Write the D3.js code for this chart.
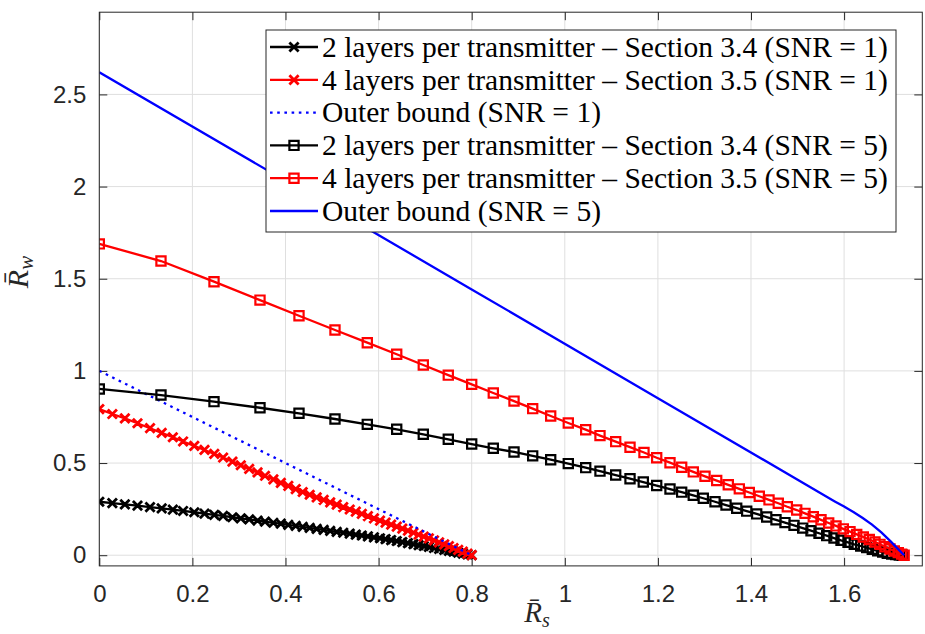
<!DOCTYPE html>
<html><head><meta charset="utf-8">
<script src="https://cdn.jsdelivr.net/npm/d3@7/dist/d3.min.js"></script>
<style>body{margin:0;background:#fff}svg{display:block}</style>
</head><body>
<svg id="chart" width="925" height="634"></svg>
<script>
// ---------- data ----------
const xTicks = [0, 0.2, 0.4, 0.6, 0.8, 1, 1.2, 1.4, 1.6];
const yTicks = [0, 0.5, 1, 1.5, 2, 2.5];
const xTickLabels = ["0", "0.2", "0.4", "0.6", "0.8", "1", "1.2", "1.4", "1.6"];
const yTickLabels = ["0", "0.5", "1", "1.5", "2", "2.5"];

const legendLabels = [
  "2 layers per transmitter \u2013 Section 3.4 (SNR = 1)",
  "4 layers per transmitter \u2013 Section 3.5 (SNR = 1)",
  "Outer bound (SNR = 1)",
  "2 layers per transmitter \u2013 Section 3.4 (SNR = 5)",
  "4 layers per transmitter \u2013 Section 3.5 (SNR = 5)",
  "Outer bound (SNR = 5)"
];

// SNR = 1, 2 layers (black x)
const rs2L_snr1 = [0,0.028,0.055,0.082,0.109,0.134,0.158,0.180,0.204,0.226,0.247,0.266,0.286,0.304,0.322,0.340,0.356,0.374,0.390,0.406,0.422,0.437,0.452,0.467,0.482,0.496,0.510,0.524,0.538,0.551,0.564,0.577,0.590,0.603,0.615,0.627,0.639,0.651,0.663,0.675,0.686,0.697,0.708,0.719,0.730,0.741,0.751,0.761,0.771,0.781,0.791,0.800];
const rw2L_snr1 = [0.290,0.283,0.276,0.269,0.261,0.254,0.247,0.240,0.233,0.226,0.219,0.213,0.206,0.200,0.194,0.188,0.182,0.176,0.171,0.165,0.159,0.154,0.148,0.143,0.137,0.132,0.127,0.122,0.117,0.112,0.107,0.102,0.097,0.092,0.087,0.082,0.077,0.071,0.066,0.060,0.055,0.050,0.045,0.039,0.034,0.029,0.024,0.019,0.014,0.009,0.004,0.000];

// SNR = 1, 4 layers (red x)
const rs4L_snr1 = [0,0.028,0.055,0.082,0.109,0.134,0.158,0.180,0.204,0.226,0.247,0.266,0.286,0.304,0.322,0.340,0.356,0.374,0.390,0.406,0.422,0.437,0.452,0.467,0.482,0.496,0.510,0.524,0.538,0.551,0.564,0.577,0.590,0.603,0.615,0.627,0.639,0.651,0.663,0.675,0.686,0.697,0.708,0.719,0.730,0.741,0.751,0.761,0.771,0.781,0.791,0.800];
const rw4L_snr1 = [0.793,0.766,0.742,0.716,0.689,0.664,0.640,0.617,0.593,0.571,0.550,0.530,0.508,0.488,0.468,0.449,0.431,0.411,0.392,0.376,0.359,0.343,0.328,0.314,0.300,0.287,0.274,0.261,0.248,0.236,0.224,0.212,0.200,0.188,0.177,0.166,0.155,0.144,0.133,0.122,0.111,0.101,0.091,0.080,0.070,0.059,0.049,0.039,0.029,0.019,0.009,0.000];

// SNR = 1, outer bound (blue dotted)
const rsOB_snr1 = [0, 0.8];
const rwOB_snr1 = [1, 0];

// SNR = 5, 2 layers (black squares)
const rs2L_snr5 = [0,0.1325,0.2464,0.3452,0.4290,0.5063,0.5757,0.6389,0.6960,0.7497,0.8000,0.8464,0.8909,0.9310,0.9697,1.0075,1.0449,1.0756,1.1093,1.1401,1.1686,1.1974,1.2260,1.2511,1.2760,1.2975,1.3227,1.3463,1.3693,1.3908,1.4122,1.4337,1.4537,1.4730,1.4924,1.5111,1.5289,1.5461,1.5626,1.5783,1.5934,1.6084,1.6219,1.6357,1.6486,1.6606,1.6722,1.6829,1.6928,1.7023,1.7109,1.7186,1.7250];
const rw2L_snr5 = [0.902,0.869,0.833,0.800,0.770,0.739,0.710,0.683,0.656,0.629,0.603,0.580,0.560,0.539,0.518,0.497,0.475,0.456,0.435,0.415,0.397,0.378,0.359,0.342,0.325,0.309,0.290,0.272,0.255,0.239,0.224,0.207,0.192,0.177,0.162,0.147,0.133,0.119,0.106,0.093,0.081,0.070,0.059,0.050,0.041,0.032,0.024,0.017,0.011,0.006,0.003,0.001,0.000];

// SNR = 5, 4 layers (red squares)
const rs4L_snr5 = [0,0.1325,0.2464,0.3452,0.4290,0.5063,0.5757,0.6389,0.6960,0.7497,0.8000,0.8464,0.8909,0.9310,0.9697,1.0075,1.0449,1.0756,1.1093,1.1401,1.1701,1.1974,1.2260,1.2511,1.2760,1.3012,1.3263,1.3512,1.3749,1.3963,1.4178,1.4387,1.4586,1.4780,1.4982,1.5160,1.5338,1.5504,1.5669,1.5826,1.5983,1.6127,1.6271,1.6412,1.6541,1.6664,1.6771,1.6879,1.6986,1.7078,1.7164,1.7237,1.7290];
const rw4L_snr5 = [1.689,1.596,1.484,1.384,1.299,1.222,1.153,1.090,1.032,0.977,0.927,0.880,0.836,0.795,0.755,0.717,0.681,0.649,0.616,0.586,0.557,0.529,0.502,0.477,0.452,0.428,0.405,0.382,0.360,0.340,0.320,0.300,0.282,0.263,0.245,0.227,0.209,0.192,0.175,0.159,0.143,0.128,0.113,0.099,0.085,0.072,0.059,0.046,0.034,0.023,0.014,0.006,0.000];

// SNR = 5, outer bound (blue solid)
const rsOB_snr5 = [0,0.4,0.8,1.2,1.58,1.60,1.62,1.64,1.66,1.68,1.70,1.715,1.729];
const rwOB_snr5 = [2.620,2.031,1.442,0.852,0.292,0.264,0.234,0.202,0.166,0.124,0.075,0.036,0.000];

// ---------- chart ----------
const W = 925, H = 634;
const plot = {left: 99.3, right: 922.3, top: 12.2, bottom: 565.9};
const xDomain = [0, 1.768];
const yDomain = [-0.058, 2.946];
const axisColor = "#262626";

const svg = d3.select("#chart");
const x = d3.scaleLinear().domain(xDomain).range([plot.left, plot.right]);
const y = d3.scaleLinear().domain(yDomain).range([plot.bottom, plot.top]);

svg.append("rect").attr("width", W).attr("height", H).attr("fill", "#fff");

// grid
const grid = svg.append("g").attr("stroke", "#dfdfdf").attr("stroke-width", 1);
xTicks.forEach(t => grid.append("line").attr("x1", x(t)).attr("x2", x(t)).attr("y1", plot.top).attr("y2", plot.bottom));
yTicks.forEach(t => grid.append("line").attr("y1", y(t)).attr("y2", y(t)).attr("x1", plot.left).attr("x2", plot.right));

// axes with inward ticks
const tickLen = 8;
const sans = "'Liberation Sans', Arial, sans-serif";
const serif = "'Liberation Serif', 'Times New Roman', serif";
const xAxisB = d3.axisBottom(x).tickValues(xTicks).tickFormat((d, i) => xTickLabels[i]).tickSizeInner(-tickLen).tickSizeOuter(0).tickPadding(19);
const xAxisT = d3.axisTop(x).tickValues(xTicks).tickFormat("").tickSizeInner(-tickLen).tickSizeOuter(0);
const yAxisL = d3.axisLeft(y).tickValues(yTicks).tickFormat((d, i) => yTickLabels[i]).tickSizeInner(-tickLen).tickSizeOuter(0).tickPadding(13);
const yAxisR = d3.axisRight(y).tickValues(yTicks).tickFormat("").tickSizeInner(-tickLen).tickSizeOuter(0);

function styleAxis(g) {
  g.select(".domain").remove();
  g.selectAll(".tick line").attr("stroke", axisColor).attr("stroke-width", 1);
  g.selectAll(".tick text").attr("fill", axisColor).style("font-family", sans).attr("font-size", 24);
}
svg.append("g").attr("transform", `translate(0,${plot.bottom})`).call(xAxisB).call(styleAxis);
svg.append("g").attr("transform", `translate(0,${plot.top})`).call(xAxisT).call(styleAxis);
svg.append("g").attr("transform", `translate(${plot.left},0)`).call(yAxisL).call(styleAxis);
svg.append("g").attr("transform", `translate(${plot.right},0)`).call(yAxisR).call(styleAxis);

// clip
svg.append("clipPath").attr("id", "clip").append("rect")
  .attr("x", plot.left).attr("y", plot.top).attr("width", plot.right - plot.left).attr("height", plot.bottom - plot.top);
const gData = svg.append("g").attr("clip-path", "url(#clip)");

const series = [
  {xs: rs2L_snr1, ys: rw2L_snr1, color: "#000000", dash: null, marker: "x"},
  {xs: rs4L_snr1, ys: rw4L_snr1, color: "#ff0000", dash: null, marker: "x"},
  {xs: rsOB_snr1, ys: rwOB_snr1, color: "#0000ff", dash: "2.6 4.6", marker: null},
  {xs: rs2L_snr5, ys: rw2L_snr5, color: "#000000", dash: null, marker: "s"},
  {xs: rs4L_snr5, ys: rw4L_snr5, color: "#ff0000", dash: null, marker: "s"},
  {xs: rsOB_snr5, ys: rwOB_snr5, color: "#0000ff", dash: null, marker: null}
];

const lineGen = d3.line().x(d => x(d[0])).y(d => y(d[1]));
const LW = 2.3;
function markerPath(type, cx, cy) {
  const h = 4.6;
  if (type === "x") return `M${cx-h},${cy-h}L${cx+h},${cy+h}M${cx-h},${cy+h}L${cx+h},${cy-h}`;
  return `M${cx-h},${cy-h}H${cx+h}V${cy+h}H${cx-h}Z`;
}
function drawSeries(g, s, pts) {
  g.append("path").attr("d", lineGen(pts)).attr("fill", "none").attr("stroke", s.color)
    .attr("stroke-width", LW).attr("stroke-dasharray", s.dash);
  if (s.marker) {
    g.append("path").attr("d", pts.map(p => markerPath(s.marker, x(p[0]), y(p[1]))).join(""))
      .attr("fill", "none").attr("stroke", s.color).attr("stroke-width", s.marker === "x" ? 2.8 : 2.2);
  }
}
series.forEach(s => drawSeries(gData, s, s.xs.map((v, i) => [v, s.ys[i]])));

// box
svg.append("rect").attr("x", plot.left).attr("y", plot.top).attr("width", plot.right - plot.left)
  .attr("height", plot.bottom - plot.top).attr("fill", "none").attr("stroke", axisColor).attr("stroke-width", 1);

// legend
const lg = {x: 266, y: 30, w: 630, h: 202};
const leg = svg.append("g");
leg.append("rect").attr("x", lg.x).attr("y", lg.y).attr("width", lg.w).attr("height", lg.h)
  .attr("fill", "#fff").attr("stroke", axisColor).attr("stroke-width", 1);
const rowH = 32.8, row0 = lg.y + 17;
const probe = leg.append("text").style("font-family", serif).attr("font-size", 22).text(legendLabels[0]);
const wProbe = probe.node().getComputedTextLength();
probe.remove();
const fs = 22 * 566 / wProbe;
series.forEach((s, i) => {
  const cy = row0 + i * rowH;
  const sx = lg.x + 4, ex = lg.x + 52, mx = (sx + ex) / 2;
  leg.append("path").attr("d", `M${sx},${cy}H${ex}`).attr("stroke", s.color).attr("stroke-width", LW)
    .attr("stroke-dasharray", s.dash).attr("fill", "none");
  if (s.marker) leg.append("path").attr("d", markerPath(s.marker, mx, cy)).attr("fill", "none")
    .attr("stroke", s.color).attr("stroke-width", s.marker === "x" ? 2.8 : 2.2);
  leg.append("text").attr("x", lg.x + 56).attr("y", cy).attr("dy", "0.33em")
    .style("font-family", serif).attr("font-size", fs).attr("fill", "#000").text(legendLabels[i]);
});

// axis labels
svg.append("text").attr("x", 537).attr("y", 622).attr("text-anchor", "middle")
  .style("font-family", serif).attr("font-style", "italic").attr("font-size", 29).attr("fill", axisColor)
  .call(t => { t.append("tspan").text("R\u0304"); t.append("tspan").attr("dy", 5).attr("font-size", 20).text("s"); });
svg.append("text").attr("transform", "translate(28,272) rotate(-90)").attr("text-anchor", "middle")
  .style("font-family", serif).attr("font-style", "italic").attr("font-size", 30).attr("fill", axisColor)
  .call(t => { t.append("tspan").text("R\u0304"); t.append("tspan").attr("dy", 5).attr("font-size", 21).text("w"); });
</script>
</body></html>
